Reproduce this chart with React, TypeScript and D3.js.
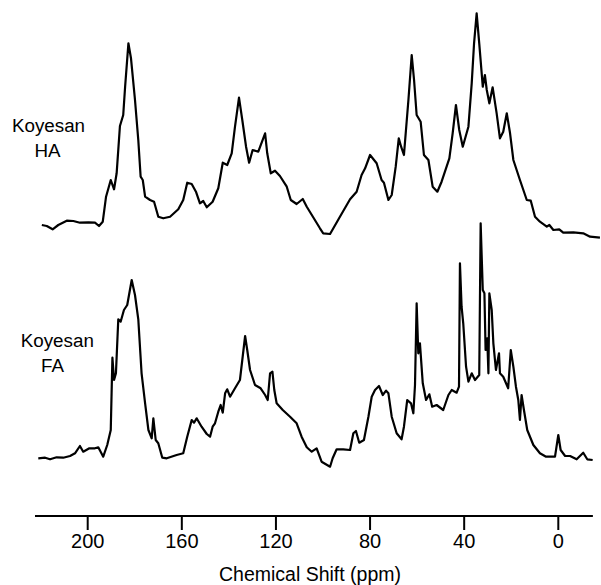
import { useEffect, useRef } from "react";
import { select, scaleLinear, line, curveLinear } from "d3";

// ppm positions and intensities (arbitrary units)
const haShift = [
  219.5, 217.4, 214.9, 212.5, 208.9, 206.1, 203.3, 199.7, 196.9, 195.2, 193.6,
  192.2, 190.2, 188.8, 187.7, 186.3, 184.9, 184.1, 182.7, 181.6, 179.9, 178.5,
  177.5, 176.6, 175.6, 173.5, 171.8, 170, 167.9, 165, 161.5, 159.4, 157.7,
  155.8, 154, 152.3, 150.9, 149.4, 146.9, 144.5, 142.6, 140.7, 138.8, 137.4,
  135.7, 134.3, 132.7, 131.4, 129.9, 127.5, 124.6, 123.7, 122.2, 120.4, 118.3,
  115.4, 113.7, 111.2, 108.6, 106.9, 101.3, 99.9, 97, 92.8, 88.5, 85.7, 83.6,
  82.1, 80, 77.2, 75.1, 74.1, 72.2, 70.8, 69.1, 67.8, 66.8, 65.6, 63.7, 62.3,
  61.3, 60.2, 58.5, 57.1, 55.2, 53.4, 51.4, 49.6, 46.3, 44.9, 43.5, 42.1, 40.6,
  38.2, 36.8, 35.8, 34.7, 33.6, 32.1, 31.2, 30.4, 29.3, 27.9, 26.2, 24.8, 23.4,
  21.9, 20.5, 19.1, 16.3, 13.4, 11.7, 9.9, 7.8, 4.9, 3.8, 2.1, -0.4, -2.1,
  -6.4, -10.6, -13.5, -17.7,
];
const haIntensity = [
  15, 14, 10.7, 15, 19.3, 19, 17.3, 17.7, 17.3, 14, 18.3, 43.3, 60, 50.7, 66.7,
  114, 125, 153.3, 196.7, 181.7, 140, 100, 63.3, 60, 43.3, 40, 38.3, 23.3, 21.7,
  23.3, 30.7, 40, 57.3, 56, 48.3, 36.7, 39, 32.7, 38.3, 51.7, 77.3, 75, 86.7,
  113.3, 142.3, 120, 93.3, 77.3, 90, 88.3, 106.7, 86.7, 66.7, 69.3, 64, 53.3,
  40, 36, 41, 33.3, 11.7, 6.7, 6, 23.3, 40.7, 48.3, 65, 71.7, 85, 76.7, 60,
  57.3, 40, 45, 73.3, 101.7, 93.3, 85, 140, 185, 160, 125, 118.3, 85, 80, 53.3,
  48.3, 58.3, 81.7, 106.7, 135, 110, 93.3, 113.3, 156.7, 196.7, 226.7, 196.7,
  153.3, 165, 150, 136.7, 152.7, 126.7, 101.7, 108.3, 126.7, 106.7, 80, 60, 40,
  39.3, 23.3, 18.3, 13.3, 15, 10, 10.7, 7.3, 7.7, 6.7, 3.3, 2.3,
];

const faShift = [
  221, 218.1, 216, 213.2, 210.4, 207.5, 205.4, 203.3, 201.9, 199.3, 196.9,
  195.5, 193.4, 191.7, 190.2, 189.5, 188.8, 188, 187, 186, 184.6, 183.2, 181.3,
  179.9, 178.5, 177.1, 175.6, 174.2, 172.8, 172.1, 171.1, 170, 168.3, 166.4,
  162.2, 159.4, 157.7, 155.8, 154.8, 153.7, 151.6, 149.4, 148, 146.9, 145.9,
  144.5, 143.5, 142.6, 141.6, 140.7, 139.5, 137.4, 135.3, 134.3, 133.1, 132.2,
  131, 128.9, 126.5, 124.6, 123.5, 122.5, 121.5, 120.7, 119.7, 117.1, 114,
  111.2, 109.1, 106.9, 104.8, 102.7, 100.6, 97, 95.9, 94.2, 91.4, 88.5, 87.1,
  86, 84.6, 82.6, 80.7, 79.3, 77.9, 76.2, 74.6, 73.2, 72.2, 70.8, 68.7, 66.6,
  65.6, 64.2, 62.6, 61.6, 60.9, 60.2, 59.5, 58.8, 57.6, 56.2, 54.8, 53.6, 51.7,
  48.9, 46.7, 45.3, 43.2, 42.2, 41.8, 41.1, 40.4, 39.2, 38.2, 36.8, 35.4, 33.6,
  33, 32.1, 31.4, 30.9, 30.2, 29.7, 29.3, 28.3, 27.6, 26.5, 25.2, 24.8, 23.4,
  21.3, 20.2, 19.1, 18, 17, 16.3, 15.6, 14.6, 13.2, 10.6, 7.8, 5.2, 1.4, 0, -1,
  -2.9, -5, -7.8, -10.6, -12.3, -14.6,
];
const faIntensity = [
  11.7, 12.3, 10.7, 12.7, 12.3, 14, 16.7, 24, 18.3, 21.7, 21.7, 22.7, 13.3, 25,
  40, 112.3, 90, 96.7, 150.7, 148.3, 160, 165, 190, 175, 150.7, 96.7, 66.7, 40,
  31.7, 51.7, 30, 26.7, 12.3, 11.7, 15, 16.7, 33.3, 50, 47.3, 51.7, 43.3, 36,
  33.3, 43.3, 46.7, 58.3, 65, 57.3, 76.7, 80.7, 73.3, 81.7, 90, 110, 134, 120,
  100, 85, 81.7, 75, 70, 96.7, 98.3, 80, 66.7, 60, 53.3, 46.7, 33.3, 22.7, 18.3,
  21.7, 8.3, 3.3, 11.7, 20.7, 20.7, 20, 36.7, 39, 27.3, 30, 53.3, 73.3, 80, 84,
  75, 79.3, 76.7, 53.3, 36.7, 30.7, 43.3, 70, 66.7, 56.7, 85, 166.7, 116.7,
  126.7, 86.7, 70, 75.7, 63.3, 65, 60, 75, 80, 77.3, 83.3, 206.7, 163.3, 146.7,
  103.3, 88.3, 96.7, 90, 95, 246.7, 180, 176.7, 120, 131.7, 96.7, 176.7, 160,
  126.7, 100, 116.7, 96.7, 93.3, 81.7, 120, 103.3, 83.3, 70, 50, 75, 60, 40, 25,
  16.7, 13.3, 13.3, 35, 20, 14, 14, 10.7, 17.3, 10.7, 10,
];

const tickValues = [200, 160, 120, 80, 40, 0];
const axisExtent = [222.4, -14.7];

function App() {
  const svgRef = useRef(null);

  useEffect(() => {
    const svg = select(svgRef.current);
    svg.selectAll("*").remove();

    const x = scaleLinear().domain([200, 0]).range([87.7, 558.3]);
    const yHA = scaleLinear().domain([0, 250]).range([240, -10]);
    const yFA = scaleLinear().domain([0, 250]).range([470, 220]);

    const traces = [
      { shift: haShift, inten: haIntensity, y: yHA },
      { shift: faShift, inten: faIntensity, y: yFA },
    ];

    traces.forEach((t) => {
      const pts = t.shift.map((s, i) => [s, t.inten[i]]);
      const gen = line()
        .x((d) => x(d[0]))
        .y((d) => t.y(d[1]))
        .curve(curveLinear);
      svg
        .append("path")
        .attr("d", gen(pts))
        .attr("fill", "none")
        .attr("stroke", "#000")
        .attr("stroke-width", 2.2)
        .attr("stroke-linejoin", "round");
    });

    const axisY = 516;
    svg
      .append("line")
      .attr("x1", x(axisExtent[0]))
      .attr("x2", x(axisExtent[1]))
      .attr("y1", axisY)
      .attr("y2", axisY)
      .attr("stroke", "#000")
      .attr("stroke-width", 1.8);

    const ticks = svg
      .selectAll(".tick")
      .data(tickValues)
      .join("g")
      .attr("class", "tick")
      .attr("transform", (d) => `translate(${x(d)},${axisY})`);
    ticks
      .append("line")
      .attr("y1", 0)
      .attr("y2", 14)
      .attr("stroke", "#000")
      .attr("stroke-width", 2);
    ticks
      .append("text")
      .attr("y", 32)
      .attr("text-anchor", "middle")
      .attr("font-size", 20)
      .text((d) => d);

    svg
      .append("text")
      .attr("x", 310)
      .attr("y", 581)
      .attr("text-anchor", "middle")
      .attr("font-size", 19.5)
      .text("Chemical Shift (ppm)");

    const labels = [
      { text: "Koyesan", x: 48.5, y: 131.5 },
      { text: "HA", x: 47.5, y: 156.5 },
      { text: "Koyesan", x: 57.3, y: 347 },
      { text: "FA", x: 52.5, y: 372 },
    ];
    svg
      .selectAll(".lbl")
      .data(labels)
      .join("text")
      .attr("class", "lbl")
      .attr("x", (d) => d.x)
      .attr("y", (d) => d.y)
      .attr("text-anchor", "middle")
      .attr("font-size", 18.8)
      .text((d) => d.text);
  }, []);

  return (
    <svg
      ref={svgRef}
      width={601}
      height={585}
      style={{
        position: "absolute",
        left: 0,
        top: 0,
        background: "#fff",
        fontFamily: "'Liberation Sans', Arial, Helvetica, sans-serif",
      }}
    />
  );
}

export default App;
